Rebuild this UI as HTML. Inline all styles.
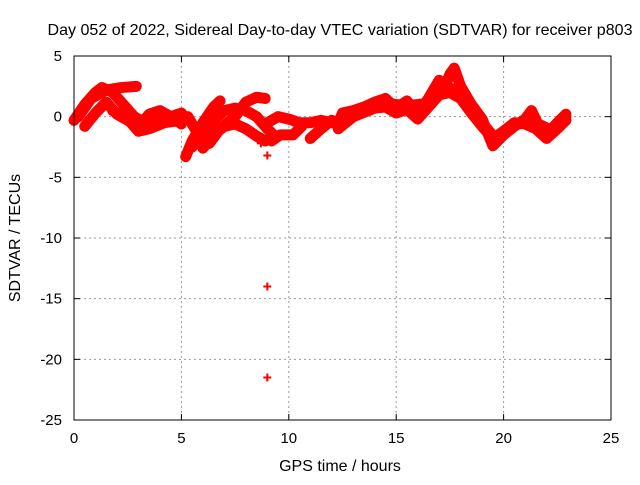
<!DOCTYPE html>
<html><head><meta charset="utf-8"><style>
body{margin:0;background:#fff;font-family:"Liberation Sans",sans-serif}
svg text{font-family:"Liberation Sans",sans-serif;font-size:15px;fill:#000}
svg text.big{font-size:16px}
</style></head><body>
<svg id="chart" width="640" height="480">
<text class="big" x="340" y="35" text-anchor="middle" textLength="585" lengthAdjust="spacingAndGlyphs">Day 052 of 2022, Sidereal Day-to-day VTEC variation (SDTVAR) for receiver p803</text>
<text class="big" x="340" y="471" text-anchor="middle">GPS time / hours</text>
<text class="big" transform="translate(20,238) rotate(-90)" text-anchor="middle">SDTVAR / TECUs</text>
<g id="grid"></g><g id="marks"></g>
<rect x="74" y="56" width="537" height="364" fill="none" stroke="#000" stroke-width="1"/>
</svg>
<script>
const xTicks=[0,5,10,15,20,25];
const yTicks=[5,0,-5,-10,-15,-20,-25];
const tracks=[
[[0,-0.3],[0.5,1],[1,2],[1.3,2.4],[1.8,2],[2.3,1],[2.8,0],[3.3,-0.5],[4,-0.3],[5,0.3]],
[[0.2,0],[0.8,1.5],[1.5,2.2],[2.2,2.4],[2.9,2.5]],
[[0.5,-0.8],[1,0.3],[1.5,1.2],[2,0.2],[2.5,-0.3],[3,-0.8],[3.5,0.2],[4,0.5],[4.5,0],[5,-0.6]],
[[1.8,0.5],[2.5,-0.2],[3,-1.2],[3.5,-1],[4.2,-0.5],[5,-0.3]],
[[5.2,-3.3],[5.5,-2],[6,-0.5],[6.5,0.8],[6.8,1.3]],
[[5.3,0],[5.8,-1.5],[6.3,-2.2],[6.8,-1],[7.5,0],[8,1.2],[8.5,1.6],[8.9,1.5]],
[[5.5,-2.5],[6,-1.5],[6.5,-0.3],[7,0.5],[7.5,0.7],[8,0.5],[8.5,0],[9,-1],[9.4,-1.7]],
[[6,-2.6],[6.5,-1.5],[7,-0.8],[7.5,-0.6],[8,-1],[8.5,-1.6],[8.9,-2]],
[[9,-0.5],[9.5,0],[10,-0.2],[10.5,-0.5],[11,-0.5],[11.5,-0.3],[12,-0.5],[12.5,-0.5]],
[[9.2,-2],[9.6,-1.5],[10.2,-1.5],[10.6,-0.8]],
[[11,-1.8],[11.5,-1],[12,-0.3]],
[[12.3,-0.5],[12.5,0.3],[13,0.5],[13.5,0.8],[14,1.2],[14.5,1.5],[15,0.7],[15.5,1.3],[16,0.2],[16.5,1.5],[17,3],[17.2,2.2],[17.5,3.5],[17.7,4],[18,2.5],[18.5,1],[19,-0.2],[19.5,-2.4],[20,-1.5],[20.5,-0.8],[21,-0.2],[21.3,0.5],[21.7,-1],[22,-1.5],[22.5,-0.5],[22.9,0.2]],
[[12.3,-1],[13,0],[14,0.7],[14.5,0.8],[15,0.3],[15.5,0.6],[16,-0.2],[16.5,0.8],[17,1.8],[17.5,2],[18,1.5],[18.5,0.3],[19,-0.8],[19.5,-1.8],[20,-1.2],[20.5,-0.5],[21,-0.6],[21.5,-1],[22,-1.8],[22.5,-1],[22.9,-0.3]],
[[12.5,-0.2],[13.5,0.4],[14.5,1.1],[15.5,0.9],[16.5,1.1],[17.3,2.5],[18,2],[19,-0.5],[19.7,-2],[20.5,-0.6],[21.5,-0.5],[22.3,-1.2],[22.9,0]]
];
const outliers=[[9,-14],[9,-21.5],[9,-3.2],[5.2,-3.2],[8.7,-2.2],[0.6,-0.5]];
const X=h=>74+h*537/25, Y=v=>56+(5-v)*364/30;
const NS="http://www.w3.org/2000/svg";
const grid=document.getElementById('grid'), marks=document.getElementById('marks');
function el(t,a,p){const e=document.createElementNS(NS,t);for(const k in a)e.setAttribute(k,a[k]);p.appendChild(e);return e;}
xTicks.forEach(t=>{
 if(t>0&&t<25){const g=el('line',{x1:X(t),x2:X(t),y1:56,y2:420,stroke:'#999','stroke-dasharray':'2,3'},grid);
 
 }
 el('line',{x1:X(t),x2:X(t),y1:420,y2:414,stroke:'#000'},grid);
 el('line',{x1:X(t),x2:X(t),y1:56,y2:62,stroke:'#000'},grid);
 const tx=el('text',{x:X(t),y:443,'text-anchor':'middle'},grid);tx.textContent=t;
 
 
});
yTicks.forEach(t=>{
 if(t<5&&t>-25){const g=el('line',{x1:74,x2:611,y1:Y(t),y2:Y(t),stroke:'#999','stroke-dasharray':'2,3'},grid);
 
 }
 el('line',{x1:74,x2:80,y1:Y(t),y2:Y(t),stroke:'#000'},grid);
 el('line',{x1:611,x2:605,y1:Y(t),y2:Y(t),stroke:'#000'},grid);
 const tx=el('text',{x:62,y:Y(t)+5,'text-anchor':'end'},grid);tx.textContent=t;
 
 
});
tracks.forEach(tr=>{
 const p=el('polyline',{points:tr.map(d=>X(d[0])+','+Y(d[1])).join(' '),fill:'none',stroke:'#f00','stroke-width':11,'stroke-linejoin':'round','stroke-linecap':'round'},marks);
 
 
});
outliers.forEach(d=>{
 const p=el('path',{d:`M${X(d[0])-4},${Y(d[1])}h8M${X(d[0])},${Y(d[1])-4}v8`,stroke:'#f00','stroke-width':2},marks);
 
 
});
</script>
</body></html>
